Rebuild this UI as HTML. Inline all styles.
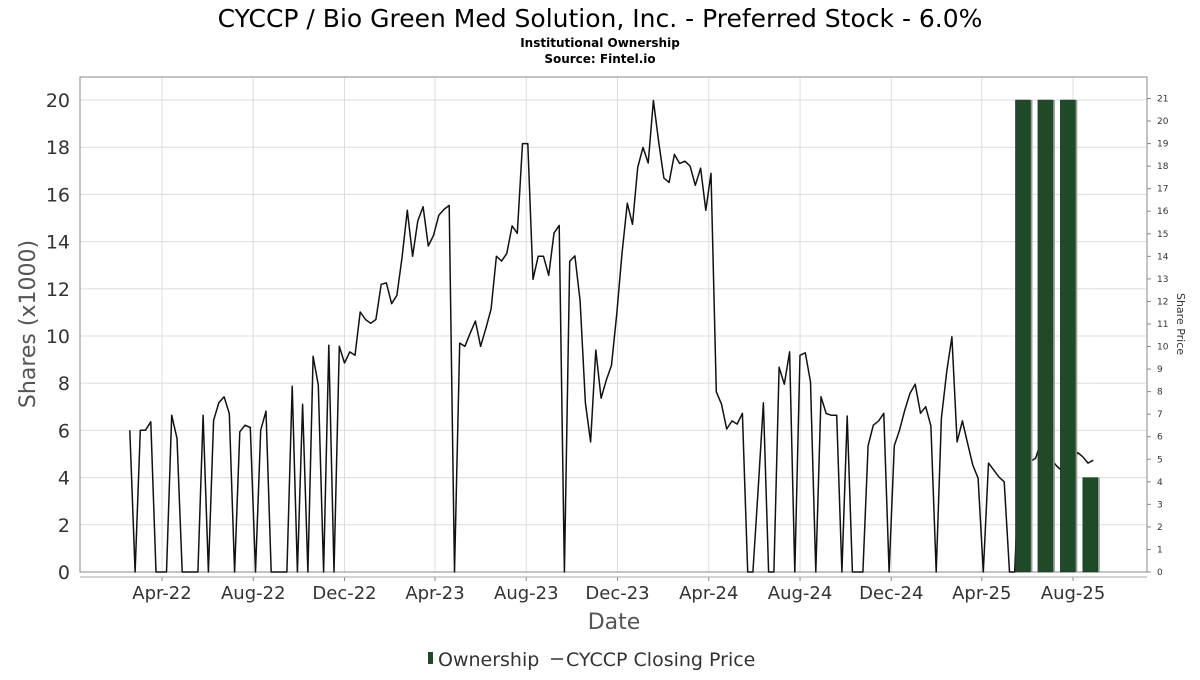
<!DOCTYPE html>
<html><head><meta charset="utf-8">
<style>
body{margin:0;background:#fff;}
svg text{font-family:"DejaVu Sans","Liberation Sans",sans-serif;}
</style></head>
<body>
<svg id="chart" width="1200" height="675" xmlns="http://www.w3.org/2000/svg">
<text x="600" y="27" text-anchor="middle" font-size="25" fill="#000">CYCCP / Bio Green Med Solution, Inc. - Preferred Stock - 6.0%</text>
<text x="600" y="47" text-anchor="middle" font-size="12" font-weight="bold" fill="#000">Institutional Ownership</text>
<text x="600" y="63" text-anchor="middle" font-size="12" font-weight="bold" fill="#000">Source: Fintel.io</text>
<g id="grid"></g>
<g id="bars"></g>
<g id="line"></g>
<g id="axes"></g>
<text transform="translate(35,324) rotate(-90)" text-anchor="middle" font-size="22" fill="#555">Shares (x1000)</text>
<text transform="translate(1177,324) rotate(90)" text-anchor="middle" font-size="11" fill="#333">Share Price</text>
<text x="614" y="629" text-anchor="middle" font-size="22" fill="#555">Date</text>
<g>
<rect x="428" y="652" width="5" height="12" fill="#1e4a28"/>
<text x="438" y="666" font-size="19" fill="#333">Ownership</text>
<line x1="551" y1="659" x2="563" y2="659" stroke="#333" stroke-width="1.5"/>
<text x="566" y="666" font-size="19" fill="#333">CYCCP Closing Price</text>
</g>
</svg>
<script>
const xTickLabels=["Apr-22","Aug-22","Dec-22","Apr-23","Aug-23","Dec-23","Apr-24","Aug-24","Dec-24","Apr-25","Aug-25"];
const xTickDates=["2022-04-01","2022-08-01","2022-12-01","2023-04-01","2023-08-01","2023-12-01","2024-04-01","2024-08-01","2024-12-01","2025-04-01","2025-08-01"];
const yTicks=[0,2,4,6,8,10,12,14,16,18,20];
const y2Ticks=[0,1,2,3,4,5,6,7,8,9,10,11,12,13,14,15,16,17,18,19,20,21];
const barDates=["2025-05-26","2025-06-25","2025-07-25","2025-08-24"];
const barValues=[20,20,20,4];
const priceStart="2022-02-17";
const prices=[6.29,0,6.29,6.29,6.66,0,0,0,6.95,5.93,0,0,0,0,6.95,0,6.73,7.5,7.77,7.03,0,6.22,6.51,6.41,0,6.29,7.13,0,0,0,0,8.24,0,7.44,0,9.57,8.29,0,10.06,0,10.01,9.27,9.76,9.61,11.53,11.2,11.03,11.2,12.76,12.82,11.9,12.27,13.97,16.04,14.0,15.57,16.2,14.46,14.93,15.82,16.08,16.26,0,10.15,10.01,10.59,11.13,10.01,10.81,11.67,14.0,13.79,14.13,15.35,15.02,19.0,19.0,12.98,14.0,14.0,13.16,15.03,15.37,0,13.78,14.02,12.02,7.5,5.77,9.84,7.71,
8.51,9.17,11.47,14.13,16.35,15.42,17.94,18.83,18.14,20.91,19.07,17.47,17.28,18.52,18.12,18.22,18.0,17.15,17.91,16.04,17.68,7.99,7.44,6.34,6.7,6.56,7.04,0,0,3.7,7.5,0,0,9.08,8.33,9.76,0,9.61,9.72,8.43,0,7.77,7.03,6.95,6.95,0,6.92,0,0,0,5.6,6.51,6.7,7.04,0,5.6,6.29,7.18,7.93,8.33,7.04,7.33,6.48,0,6.82,8.88,10.43,5.77,6.7,5.71,4.74,4.16,0,4.83,4.52,4.21,4.0,0,0,5.6,5.3,4.9,5.05,5.77,5.4,5.0,4.7,4.5,4.4,4.8,5.3,5.11,4.83,4.96];

const NS="http://www.w3.org/2000/svg";
const L=80,R=1147,T=77,B=572;
const day0=Date.parse("2022-04-01"), pxDay=0.748;
function xOf(d){return 162+(Date.parse(d)-day0)/86400000*pxDay;}
function yL(v){return B-v*(B-100)/20;}
function yR(v){return B-v*(B-98.5)/21;}
function mk(parent,tag,attrs,name,text){const e=document.createElementNS(NS,tag);for(const k in attrs)e.setAttribute(k,attrs[k]);


if(text!==undefined)e.textContent=text;parent.appendChild(e);return e;}
const grid=document.getElementById('grid'),axes=document.getElementById('axes'),bars=document.getElementById('bars'),line=document.getElementById('line');
yTicks.forEach(v=>{const y=yL(v);
mk(grid,'line',{x1:L,x2:R,y1:y,y2:y,stroke:'#ddd','stroke-width':1},'y-gridline');
mk(axes,'text',{x:L-10,y:y+7,'text-anchor':'end','font-size':19,fill:'#333'},'y-tick-label',String(v));});
xTickDates.forEach((d,i)=>{const x=xOf(d);
mk(grid,'line',{x1:x,x2:x,y1:T,y2:B,stroke:'#ddd','stroke-width':1},'x-gridline');
mk(axes,'line',{x1:x,x2:x,y1:577,y2:581,stroke:'#888'},'x-tick');
mk(axes,'text',{x:x,y:599,'text-anchor':'middle','font-size':18,fill:'#333'},'x-tick-label',xTickLabels[i]);});
y2Ticks.forEach(v=>{const y=yR(v);
mk(axes,'line',{x1:R,x2:R+4,y1:y,y2:y,stroke:'#888'},'y2-tick');
mk(axes,'text',{x:R+10,y:y+3,'font-size':9,fill:'#333'},'y2-tick-label',String(v));});
mk(axes,'rect',{x:L,y:T,width:R-L,height:B-T,fill:'none',stroke:'#888','stroke-width':1},'plot-frame');
mk(axes,'line',{x1:L,x2:R,y1:577,y2:577,stroke:'#aaa'},'x-axis-line');
const pts=prices.map((p,i)=>{const x=xOf(priceStart)+i*7*pxDay;return x.toFixed(1)+','+yR(p).toFixed(1);});
mk(line,'polyline',{points:pts.join(' '),fill:'none',stroke:'#111','stroke-width':1.5,'stroke-linejoin':'round'},'price-line');
barDates.forEach((d,i)=>{const cx=xOf(d),w=15,y=yL(barValues[i]);
mk(bars,'rect',{x:cx-w/2+2,y:y,width:w,height:B-y,fill:'#999'},'bar-shadow');
mk(bars,'rect',{x:cx-w/2,y:y,width:w,height:B-y,fill:'#1e4a28',stroke:'#163a1f','stroke-width':0.5},'ownership-bar');});
document.getElementById('chart').appendChild(line);
document.getElementById('chart').appendChild(bars);
</script>
</body></html>
